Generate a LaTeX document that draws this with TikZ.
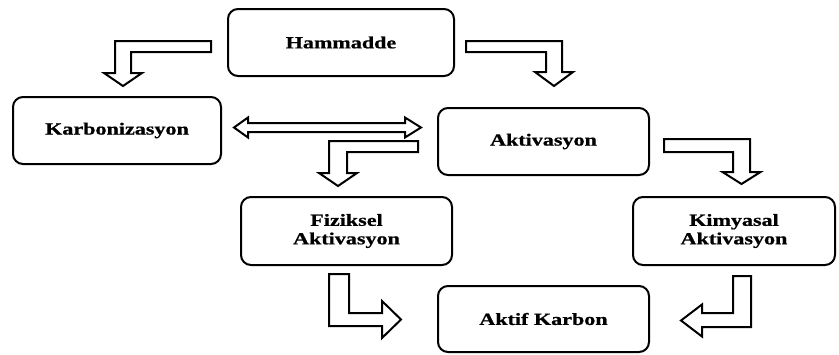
\documentclass[tikz,border=0pt]{standalone}
\usepackage{fontspec}
\setmainfont{Liberation Serif}[FakeStretch=1.3, BoldFeatures={FakeBold=0.8}]

\tikzset{
  kutu/.style={draw, line width=2pt, rounded corners=10pt, inner sep=0pt,
    align=center, font=\fontsize{17}{18.5}\selectfont\bfseries},
  ok/.style={draw, line width=2pt, line join=miter, fill=white}
}

\begin{document}
\begin{tikzpicture}[x=1pt,y=-1pt]
\useasboundingbox (0,0) rectangle (839,354);

\node[kutu, minimum width=226pt, minimum height=67pt] (ham) at (341,42.5) {Hammadde};
\node[kutu, minimum width=208pt, minimum height=67pt] (karb) at (117,130.5) {Karbonizasyon};
\node[kutu, minimum width=211pt, minimum height=67pt] (akt) at (543.5,141.5) {Aktivasyon};
\node[kutu, minimum width=211pt, minimum height=68pt] (fiz) at (346.5,231) {Fiziksel\\Aktivasyon};
\node[kutu, minimum width=202pt, minimum height=68pt] (kim) at (734,231) {Kimyasal\\Aktivasyon};
\node[kutu, minimum width=211pt, minimum height=66pt] (ak) at (543.5,319) {Aktif Karbon};

% hollow block arrows
% Hammadde -> Karbonizasyon
\draw[ok] (211,41) -- (115,41) -- (115,73) -- (104,73) -- (123,86) -- (142,73)
  -- (131,73) -- (131,52) -- (211,52) -- cycle;
% Hammadde -> Aktivasyon
\draw[ok] (466,41) -- (562,41) -- (562,72) -- (573,72) -- (554,86) -- (535,72)
  -- (546,72) -- (546,52) -- (466,52) -- cycle;
% Karbonizasyon <-> Aktivasyon
\draw[ok] (234,127.5) -- (248,117.5) -- (248,123) -- (405,123) -- (405,117.5)
  -- (421,127.5) -- (405,137.5) -- (405,132) -- (248,132) -- (248,137.5) -- cycle;
% Aktivasyon -> Fiziksel
\draw[ok] (418,141) -- (329,141) -- (329,173) -- (319,173) -- (338,186) -- (357,173)
  -- (347,173) -- (347,152) -- (418,152) -- cycle;
% Aktivasyon -> Kimyasal
\draw[ok] (664,139) -- (750,139) -- (750,172) -- (760.5,172) -- (741.5,184) -- (722.5,172)
  -- (733,172) -- (733,152) -- (664,152) -- cycle;
% Fiziksel -> Aktif Karbon
\draw[ok] (329,274) -- (349,274) -- (349,313) -- (382,313) -- (382,301) -- (401,319.5)
  -- (382,338) -- (382,326) -- (329,326) -- cycle;
% Kimyasal -> Aktif Karbon
\draw[ok] (751,276) -- (733,276) -- (733,313) -- (702,313) -- (702,304.5) -- (681,320.5)
  -- (702,336.5) -- (702,327) -- (751,327) -- cycle;
\end{tikzpicture}
\end{document}
